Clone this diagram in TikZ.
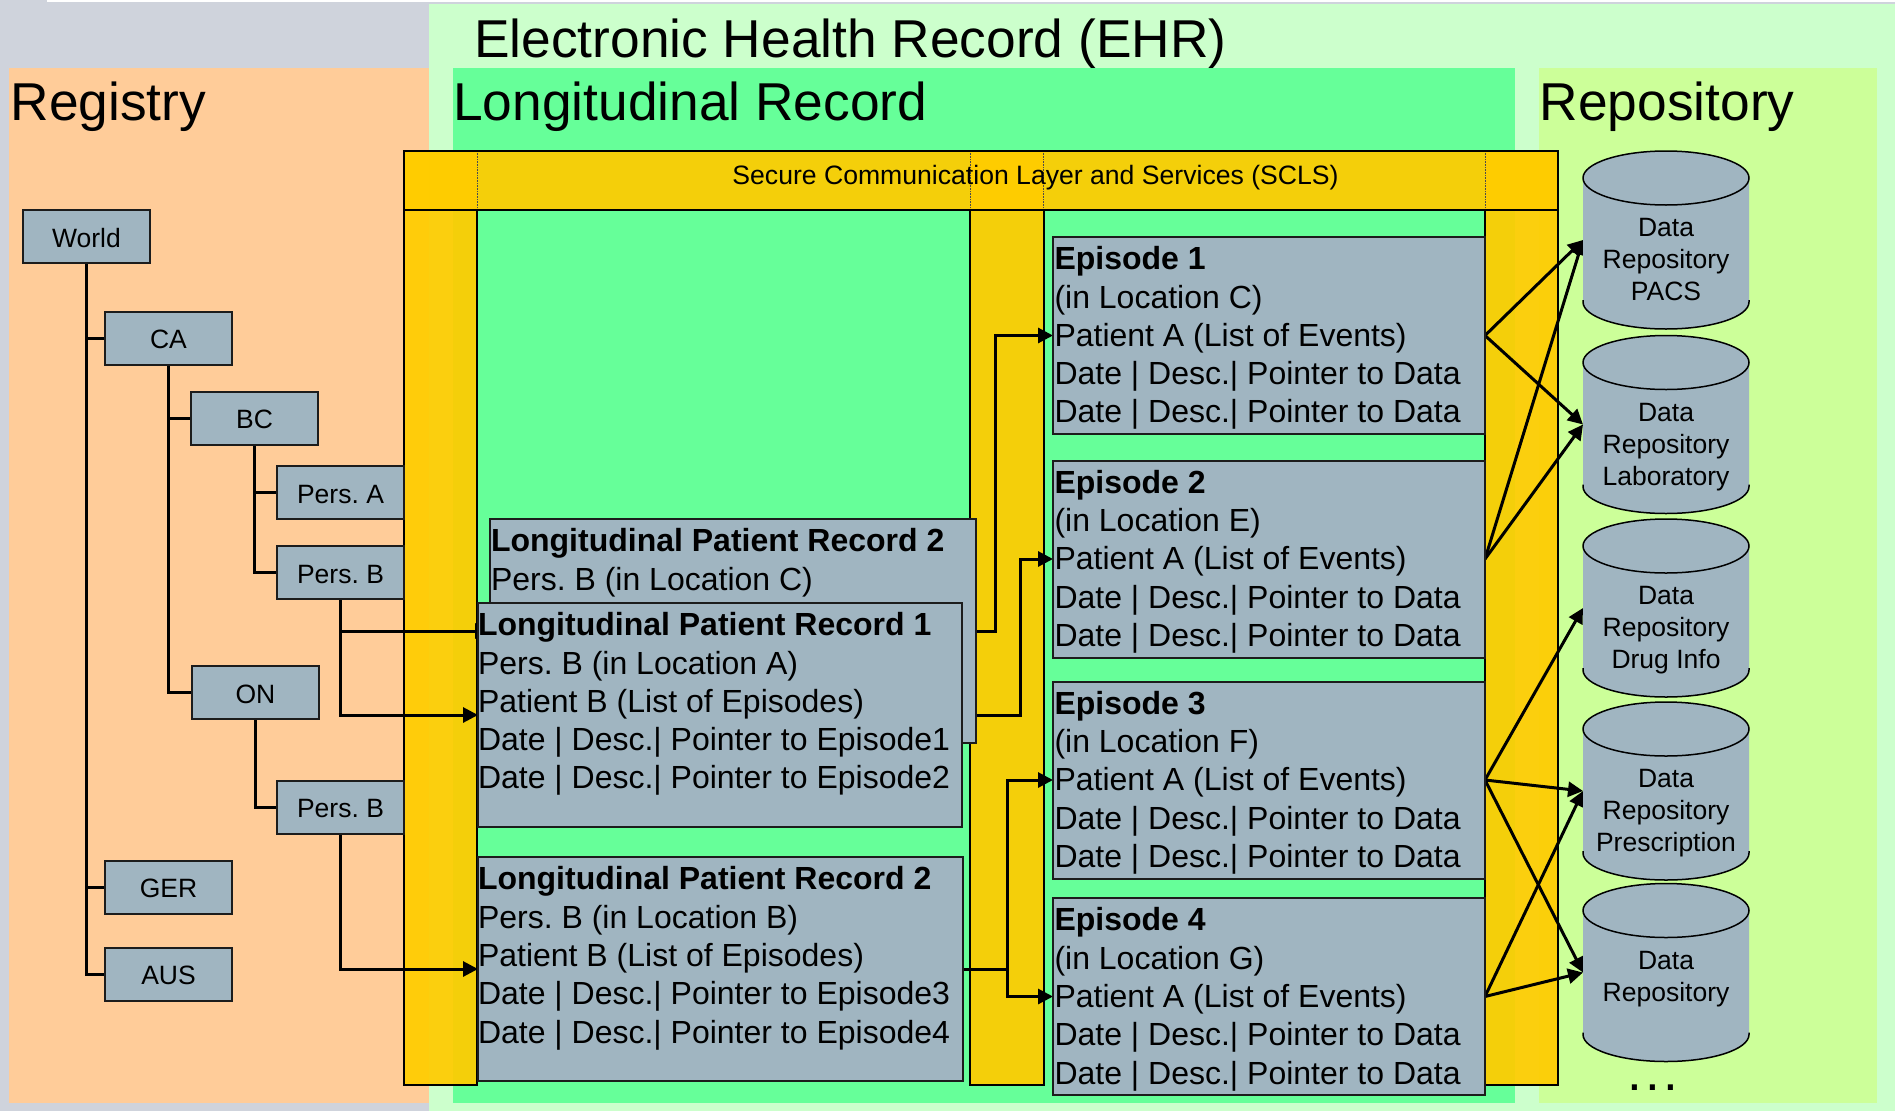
\documentclass[tikz,border=0pt]{standalone}
\usepackage{fontspec}
\setmainfont{Liberation Sans}
\usetikzlibrary{arrows.meta}
\frenchspacing

\definecolor{pagegray}{HTML}{CFD3DC}
\definecolor{ehrgreen}{HTML}{CCFFCC}
\definecolor{reggreen}{HTML}{66FF99}
\definecolor{repogreen}{HTML}{CCFF99}
\definecolor{regorange}{HTML}{FFCC99}
\definecolor{sclsyellow}{HTML}{FFCC00}
\definecolor{boxgray}{HTML}{A0B5C1}
\definecolor{boxline}{HTML}{1C1C1C}

\pgfdeclarelayer{back}
\pgfdeclarelayer{links}
\pgfsetlayers{back,links,main}

% fixed size text block, top aligned
\newcommand{\boxtext}[4][0]{\parbox[c][#3pt][t]{#2pt}{\raggedright\leftskip=#1pt\fontsize{32}{38.3}\selectfont\vspace*{9.6pt}#4}}
\newcommand{\dbtext}[1]{\parbox[c][178pt][t]{166pt}{\centering\fontsize{26.5}{32}\selectfont\vspace*{67.5pt}#1}}

\tikzset{
    bigtitle/.style={anchor=base west, inner sep=0pt, font=\fontsize{53.3}{60}\selectfont},
    treebox/.style={draw=boxline, fill=boxgray, line width=2pt, outer sep=0pt, minimum width=127pt, minimum height=53pt, inner sep=0pt, text height=21pt, text depth=0pt, font=\fontsize{26.5}{30}\selectfont},
    recbox/.style={draw=boxline, fill=boxgray, line width=2pt, outer sep=0pt, anchor=north west, inner sep=0pt},
    dbbox/.style={inner sep=0pt, outer sep=0pt},
    column/.style={fill=sclsyellow, fill opacity=0.93},
    columnline/.style={draw=black, line width=2pt},
    treeline/.style={draw=black, line width=3pt},
    arrowline/.style={draw=black, line width=3pt, -{Triangle[length=15pt,width=15pt]}},
}

\begin{document}
\begin{tikzpicture}[x=1pt,y=-1pt]
    \useasboundingbox (0,0) rectangle (1895,1111);

    \begin{pgfonlayer}{back}
        \fill[pagegray] (0,0) rectangle (1895,1111);
        \fill[white] (47,0) rectangle (1895,1.5);
        \fill[ehrgreen] (429,4) rectangle (1895,1111);
        \fill[regorange] (9,68) rectangle (429,1103);
        \fill[reggreen] (453,68) rectangle (1515,1103);
        \fill[repogreen] (1539,68) rectangle (1877,1103);

        %SCLS bar and the three columns
        \fill[column] (404,151) rectangle (477,1085);
        \fill[column] (970,151) rectangle (1043.5,1085);
        \fill[column] (1485,151) rectangle (1558,1085);
        \fill[column] (404,151) rectangle (1558,210);
        \foreach \xa/\xb in {404/477,970/1043.5,1485/1558} {
            \draw[columnline] (\xa,210) rectangle (\xb,1085);
            \draw[black!70, densely dotted, line width=.6pt] (\xb,151) -- (\xb,210);
        }
        \draw[black!70, densely dotted, line width=.6pt] (970,151) -- (970,210);
        \draw[black!70, densely dotted, line width=.6pt] (1485,151) -- (1485,210);
        \draw[columnline] (404,151) rectangle (1558,210);
    \end{pgfonlayer}

    \node[bigtitle] (ehrTitle) at (474,57) {Electronic Health Record (EHR)};
    \node[bigtitle] (regTitle) at (10.5,120.5) {Registry};
    \node[bigtitle] (longTitle) at (453,120.5) {Longitudinal Record};
    \node[bigtitle] (repoTitle) at (1539.5,120.5) {Repository};
    \node[anchor=base, inner sep=0pt, font=\fontsize{26.6}{30}\selectfont] (scls) at (1035.5,184.5) {Secure Communication Layer and Services (SCLS)};

    %Registry tree
    \node[treebox] (world) at (86.5,236.5) {World};
    \node[treebox] (ca) at (168.5,338) {CA};
    \node[treebox] (bc) at (254.5,418) {BC};
    \node[treebox] (persA) at (340.5,492.5) {Pers. A};
    \node[treebox] (persB) at (340.5,572.5) {Pers. B};
    \node[treebox] (on) at (255.5,692.5) {ON};
    \node[treebox] (persBon) at (340.5,807) {Pers. B};
    \node[treebox] (ger) at (168.5,887) {GER};
    \node[treebox] (aus) at (168.5,974) {AUS};

    %Longitudinal records
    \node[recbox] (recC) at (490,519) {\boxtext[1]{485.5}{224}{\textbf{Longitudinal Patient Record 2}\\Pers. B (in Location C)}};
    \node[recbox] (recA) at (478,603) {\boxtext{484}{224}{\textbf{Longitudinal Patient Record 1}\\Pers. B (in Location A)\\Patient B (List of Episodes)\\Date | Desc.| Pointer to Episode1\\Date | Desc.| Pointer to Episode2}};
    \node[recbox] (recB) at (478,857) {\boxtext{484.5}{224}{\textbf{Longitudinal Patient Record 2}\\Pers. B (in Location B)\\Patient B (List of Episodes)\\Date | Desc.| Pointer to Episode3\\Date | Desc.| Pointer to Episode4}};

    %Episodes
    \node[recbox] (epOne) at (1053,237) {\boxtext[1.5]{432}{197}{\textbf{Episode 1}\\(in Location C)\\Patient A (List of Events)\\Date | Desc.| Pointer to Data\\Date | Desc.| Pointer to Data}};
    \node[recbox] (epTwo) at (1053,460.5) {\boxtext[1.5]{432}{197}{\textbf{Episode 2}\\(in Location E)\\Patient A (List of Events)\\Date | Desc.| Pointer to Data\\Date | Desc.| Pointer to Data}};
    \node[recbox] (epThree) at (1053,681.5) {\boxtext[1.5]{432}{197}{\textbf{Episode 3}\\(in Location F)\\Patient A (List of Events)\\Date | Desc.| Pointer to Data\\Date | Desc.| Pointer to Data}};
    \node[recbox] (epFour) at (1053,898) {\boxtext[1.5]{432}{197}{\textbf{Episode 4}\\(in Location G)\\Patient A (List of Events)\\Date | Desc.| Pointer to Data\\Date | Desc.| Pointer to Data}};

    %Repositories
    \foreach \name/\cy/\txt in {dbPacs/240/{Data\\Repository\\PACS},dbLab/424.5/{Data\\Repository\\Laboratory},dbDrug/608/{Data\\Repository\\Drug Info},dbPresc/791/{Data\\Repository\\Prescription},dbData/972.5/{Data\\Repository}} {
        \fill[boxgray] (1583,\cy-62) -- (1583,\cy+62) arc[start angle=180, end angle=360, x radius=83pt, y radius=27pt] -- (1749,\cy-62) -- cycle;
        \draw[black, line width=1.5pt] (1583,\cy+60) -- (1583,\cy+62) arc[start angle=180, end angle=360, x radius=83pt, y radius=27pt] -- (1749,\cy+60);
        \draw[black, fill=boxgray, line width=1.5pt] (1666,\cy-62) ellipse [x radius=83pt, y radius=27pt];
        \node[dbbox] (\name) at (1666,\cy) {\dbtext{\txt}};
    }
    \node[anchor=base, inner sep=0pt, font=\fontsize{53}{60}\selectfont] (moreDots) at (1653,1090) {.\kern3pt.\kern3pt.};

    \coordinate (busOne) at (995,0);
    \coordinate (busTwo) at (1020.5,0);
    \coordinate (busThree) at (1007,0);

    \begin{pgfonlayer}{links}
        \draw[treeline] (world.south) |- (ca.west);
        \draw[treeline] (world.south) |- (ger.west);
        \draw[treeline] (world.south) |- (aus.west);
        \draw[treeline] (ca.south) |- (bc.west);
        \draw[treeline] (ca.south) |- (on.west);
        \draw[treeline] (bc.south) |- (persA.west);
        \draw[treeline] (bc.south) |- (persB.west);
        \draw[treeline] (on.south) |- (persBon.west);

        \draw[arrowline] (persB.south) |- (recC.west);
        \draw[arrowline] (persB.south) |- (recA.west);
        \draw[arrowline] (persBon.south) |- (recB.west);

        \draw[arrowline] (recC.east) -- (recC.east -| busOne) -- (busOne |- epOne.west) -- (epOne.west);
        \draw[arrowline] (recA.east) -- (recA.east -| busTwo) -- (busTwo |- epTwo.west) -- (epTwo.west);
        \draw[arrowline] (recB.east) -- (recB.east -| busThree) -- (busThree |- epThree.west) -- (epThree.west);
        \draw[arrowline] (recB.east) -- (recB.east -| busThree) -- (busThree |- epFour.west) -- (epFour.west);

        \draw[arrowline] (epOne.east) -- (dbPacs.west);
        \draw[arrowline] (epOne.east) -- (dbLab.west);
        \draw[arrowline] (epTwo.east) -- (dbPacs.west);
        \draw[arrowline] (epTwo.east) -- (dbLab.west);
        \draw[arrowline] (epThree.east) -- (dbDrug.west);
        \draw[arrowline] (epThree.east) -- (dbPresc.west);
        \draw[arrowline] (epThree.east) -- (dbData.west);
        \draw[arrowline] (epFour.east) -- (dbPresc.west);
        \draw[arrowline] (epFour.east) -- (dbData.west);
    \end{pgfonlayer}
\end{tikzpicture}
\end{document}
